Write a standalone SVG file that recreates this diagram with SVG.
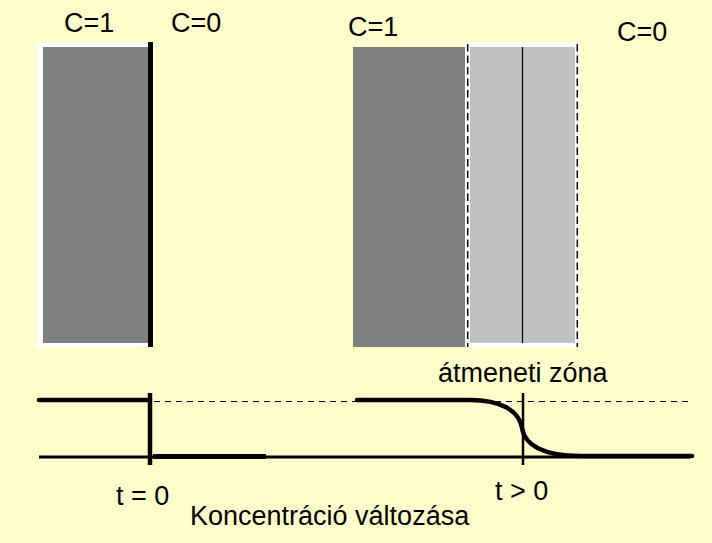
<svg xmlns="http://www.w3.org/2000/svg" width="712" height="543" viewBox="0 0 712 543">
<style>
text{font-family:"Liberation Sans",Arial,sans-serif;font-size:27px;fill:#000}
.dark{fill:#808080}
.light{fill:#C0C0C0}
.white{fill:#FFFFFF}
.dashv{stroke:#000;stroke-width:1.5;stroke-dasharray:7.5 4;fill:none}
.thick{stroke:#000;stroke-width:4.5;fill:none;stroke-linecap:round}
.axis{stroke:#000;stroke-width:3;fill:none}
.dashh{stroke:#000;stroke-width:1.2;stroke-dasharray:6 5;fill:none}
</style>
<rect width="712" height="543" fill="#FFFFCC"/>
<g id="left-block">
<rect class="white" x="37" y="42" width="112" height="305"/>
<rect class="dark" x="43" y="47" width="106" height="296"/>
<rect x="148" y="42" width="5" height="305" fill="#000"/>
</g>
<g id="right-block">
<rect class="dark" x="353" y="47" width="112" height="300"/>
<rect class="white" x="465" y="42" width="115" height="305"/>
<rect class="light" x="470" y="47" width="105" height="296"/>
<line class="dashv" x1="467.7" y1="44" x2="467.7" y2="347"/>
<line class="dashv" x1="577.3" y1="44" x2="577.3" y2="347"/>
<line x1="522.5" y1="47" x2="522.5" y2="343" stroke="#000" stroke-width="1.2"/>
</g>
<g id="labels">
<text x="64" y="32">C=1</text>
<text x="171" y="32">C=0</text>
<text x="348" y="36">C=1</text>
<text x="617" y="41">C=0</text>
<text x="438" y="382">átmeneti zóna</text>
<text x="116" y="505">t = 0</text>
<text x="495" y="500">t &gt; 0</text>
<text x="190" y="525">Koncentráció változása</text>
</g>
<g id="connectors">
<line class="axis" x1="39" y1="457" x2="690" y2="457"/>
<line class="dashh" x1="154" y1="401.5" x2="690" y2="401.5"/>
<line class="thick" x1="39" y1="400" x2="150" y2="400"/>
<line x1="150" y1="393" x2="150" y2="465" stroke="#000" stroke-width="4.5"/>
<line x1="153" y1="456.5" x2="266" y2="456.5" stroke="#000" stroke-width="5"/>
<path class="thick" d="M357,400 L470,400 C500,400 519,410 522,428 C525,446 545,456 580,456 L692,456" stroke-width="5"/>
<line x1="523" y1="393" x2="523" y2="465" stroke="#000" stroke-width="2.5"/>
</g>
</svg>
